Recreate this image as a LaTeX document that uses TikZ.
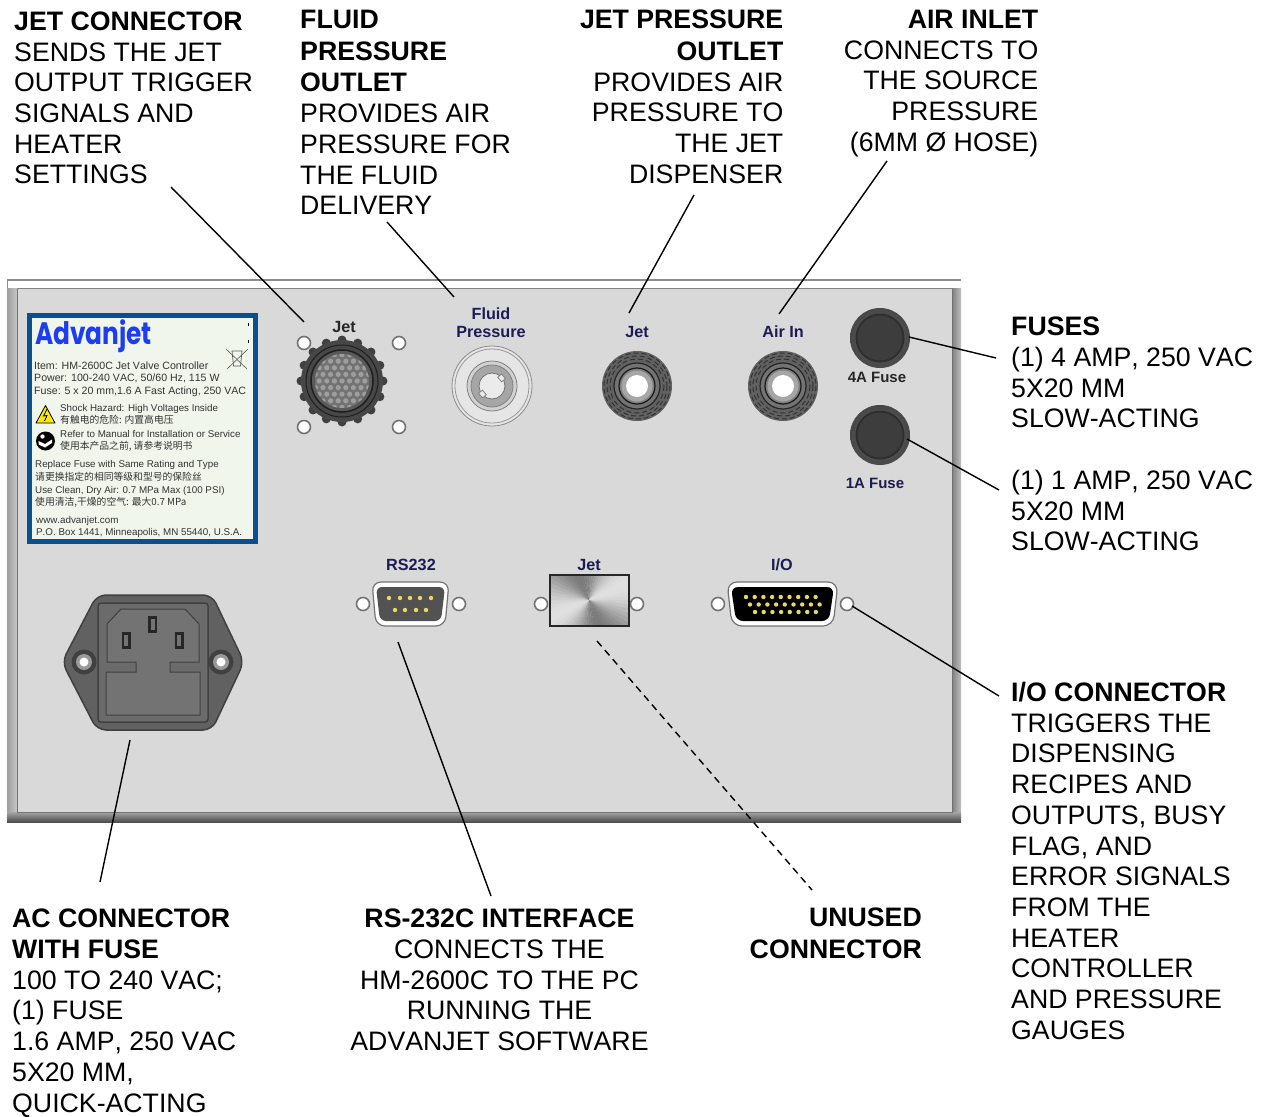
\documentclass[tikz,border=0pt]{standalone}
\usepackage{fontspec}
\setmainfont[Kerning=Off]{Liberation Sans}
\newfontfamily\cjkfont{Noto Sans CJK SC}
\newfontfamily\logofont{Poppins}
\usepackage{graphicx}
\usepackage{tikz}
\usetikzlibrary{positioning, shadings}

\definecolor{panelgray}{HTML}{D9D9D9}
\definecolor{platenavy}{HTML}{1C1C55}
\definecolor{labelblue}{HTML}{0B4F8F}
\definecolor{labelback}{HTML}{F1F6EC}
\definecolor{logoblue}{HTML}{1C3DF0}
\definecolor{pinyellow}{HTML}{E8D860}

\begin{document}
\begin{tikzpicture}[x=1pt,y=-1pt,
    calltext/.style={inner sep=0pt,font=\fontsize{26.7}{30.7}\selectfont},
    calltextleft/.style={calltext,anchor=north west,align=left},
    calltextright/.style={calltext,anchor=north east,align=right},
    calltextmid/.style={calltext,anchor=north,align=center},
    callline/.style={line width=1.4pt},
    platetext/.style={inner sep=0pt,align=center,text=platenavy,font=\fontsize{16.2}{18}\selectfont\bfseries},
    platetextblack/.style={platetext,text=black!85},
    fusetextstyle/.style={font=\fontsize{15}{18}\selectfont\bfseries},
    stickertext/.style={inner sep=0pt,anchor=west,text height=8pt,text depth=2pt,text=black!80,font=\fontsize{10.6}{12}\selectfont},
    stickersmall/.style={stickertext,font=\fontsize{9.8}{12}\selectfont},
    stickercjk/.style={stickertext,font=\fontsize{9.8}{12}\selectfont\cjkfont},
    hole/.style={circle,draw=black!55,fill=white,line width=1.6pt,minimum size=13pt,inner sep=0pt},
    pinyel/.style={circle,fill=pinyellow,inner sep=0pt,minimum size=4.4pt},
    ]

    \useasboundingbox (0,0) rectangle (1263,1116);

    % cabinet panel
    \fill[panelgray] (7,288) rectangle (961,822);
    \fill[white] (7,280) rectangle (961,288);
    \draw[-,black!45,line width=2.5pt] (7,280) -- (961,280);
    \draw[-,black!45,line width=1.2pt] (7.5,280) -- (7.5,288);
    \draw[-,black!50,line width=1.5pt] (7,288.5) -- (961,288.5);
    \shade[left color=black!38,right color=black!22] (7,288) rectangle (17,812);
    \shade[left color=black!50,right color=black!25] (952,288) rectangle (961,812);
    \shade[top color=black!35,bottom color=black!70] (7,812) rectangle (961,822);
    \draw[-,black!55,line width=0.8pt] (17,289) -- (17,812) -- (952,812) -- (952,289);

    % sticker
    \draw[draw=labelblue,fill=labelback,line width=5pt] (29.5,315.5) rectangle (255.5,541.5);
    \node (logo) [inner sep=0pt,anchor=west,text=logoblue,font=\fontsize{31}{36}\selectfont\logofont\bfseries] at (35,336) {\scalebox{0.8}[1]{Advanjet}};
    \node (item) [stickertext] at (34,366) {Item: HM-2600C Jet Valve Controller};
    \node (power) [stickertext] at (34,378) {Power: 100-240 VAC, 50/60 Hz, 115 W};
    \node (fuse) [stickertext] at (34,391) {Fuse: 5 x 20 mm,1.6 A Fast Acting, 250 VAC};
    \node (shock) [stickersmall] at (60,408) {Shock Hazard: High Voltages Inside};
    \node (shockcn) [stickercjk] at (60,420) {有触电的危险: 内置高电压};
    \node (refer) [stickersmall] at (60,434) {Refer to Manual for Installation or Service};
    \node (refercn) [stickercjk] at (60,446) {使用本产品之前, 请参考说明书};
    \node (replace) [stickersmall] at (35,464) {Replace Fuse with Same Rating and Type};
    \node (replacecn) [stickercjk] at (35,477) {请更换指定的相同等级和型号的保险丝};
    \node (clean) [stickersmall] at (35,490) {Use Clean, Dry Air: 0.7 MPa Max (100 PSI)};
    \node (cleancn) [stickercjk] at (35,502) {使用清洁,干燥的空气: 最大0.7 MPa};
    \node (web) [stickersmall] at (36,520) {www.advanjet.com};
    \node (box) [stickersmall] at (36,532) {P.O. Box 1441, Minneapolis, MN 55440, U.S.A.};

    \draw[-,fill=yellow!90!orange,draw=black,line width=0.8pt,line join=round] (36,423) -- (45.5,405.5) -- (55,423) -- cycle;
    \draw[-,black,line width=0.8pt] (47,409) -- (43.5,416) -- (47,415.5) -- (44.5,421);
    \fill[black] (45.5,441) circle (9.5);
    \fill[white] (38.5,441) -- (45,444) -- (52,439.5) -- (52,443) -- (45,447.5) -- (38.5,444.5) -- cycle;
    \fill[white] (42.5,436.5) circle (2.2);
    \draw[-,black!65,line width=0.6pt] (226,349) -- (247,369);
    \draw[-,black!65,line width=0.6pt] (248,349) -- (227,369);
    \draw[-,black!65,line width=0.7pt] (232,351) -- (242,351) -- (240.5,366) -- (233.5,366) -- cycle;
    \draw[-,black,line width=0.8pt] (248,323) -- (248,326);
    \draw[-,black,line width=0.8pt] (248,340) -- (248,343);

    % round jet connector
    \foreach \i/\x/\y in {1/304/343,2/399/343,3/304/427,4/399/427}
        \node (jethole\i) [hole] at (\x,\y) {};
    \begin{scope}[shift={(342,381)}]
        \foreach \a in {0,22.5,...,337.5}
            \fill[black!75] (\a:41) circle (4.5);
        \fill[black!72] (0,0) circle (41);
        \draw[-,black!88,line width=1pt] (0,0) circle (36);
        \draw[-,black!88,line width=1.5pt,fill=black!65] (0,0) circle (31);
        \fill[black!55] (0,0) circle (27);
        \begin{scope}
            \clip (0,0) circle (27);
            \foreach \r in {-4,...,4}
                \foreach \c in {-4,...,4}
                    \fill[black!38] ({(\c+0.5*mod(\r+8,2))*7.6},{\r*6.6}) circle (2.6);
        \end{scope}
    \end{scope}
    \node (jetround) [platetextblack] at (344,327) {Jet};

    % fluid pressure outlet
    \begin{scope}[shift={(492,386)}]
        \draw[-,black!45,fill=black!10,line width=0.8pt] (0,0) circle (40);
        \draw[-,black!40,line width=0.8pt] (0,0) circle (37);
        \draw[-,black!50,fill=black!18,line width=0.8pt] (0,0) circle (25);
        \draw[-,black!50,fill=black!35,line width=0.8pt] (0,0) circle (21);
        \draw[-,black!55,fill=black!8,line width=0.8pt] (0,0) circle (13);
        \draw[-,black!50,fill=black!8,line width=0.8pt,rotate=40] (-15,-3) rectangle (-10,3);
        \draw[-,black!50,fill=black!8,line width=0.8pt,rotate=40] (10,-3) rectangle (15,3);
    \end{scope}
    \node (fluidname) [platetext] at (491,323) {Fluid\\Pressure};

    % air fittings
    \foreach \n/\x/\t in {jetfit/637/Jet,airfit/783/Air In} {
        \begin{scope}[shift={(\x,386)}]
            \fill[black!62] (0,0) circle (35);
            \foreach \r in {33,30,27}
                \draw[-,black!80,line width=1pt,dash pattern=on 5pt off 3pt] (0,0) circle (\r);
            \draw[-,black!85,fill=black!55,line width=1.2pt] (0,0) circle (23);
            \draw[-,black!90,fill=black!50,line width=1.2pt] (0,0) circle (18);
            \fill[black!35] (0,0) circle (15.5);
            \fill[white] (0,0) circle (11);
        \end{scope}
        \node (\n) [platetext] at (\x,332) {\t};
    }

    % fuse caps
    \foreach \n/\y in {fusefour/338,fuseone/435} {
        \begin{scope}[shift={(880,\y)}]
            \shade[inner color=black!60,outer color=black!72] (0,0) circle (30);
            \fill[black!82] (0,0) circle (24.5);
            \fill[black!76] (0,0) circle (22.5);
        \end{scope}
    }
    \node (fusefourname) [platetextblack,fusetextstyle] at (877,377) {4A Fuse};
    \node (fuseonename) [platetext,fusetextstyle] at (875,483) {1A Fuse};

    % rs232 connector
    \node (rsleft) [hole] at (363,604) {};
    \node (rsright) [hole] at (459,604) {};
    \draw[-,black!55,fill=white,line width=1.2pt,rounded corners=9pt] (372,582) -- (449,582) -- (445,626) -- (376,626) -- cycle;
    \fill[black!68,rounded corners=6pt] (376,587) -- (445,587) -- (441,621) -- (380,621) -- cycle;
    \foreach \x in {389,400,410,420,431}
        \node [pinyel] at (\x,598) {};
    \foreach \x in {395,405,416,426}
        \node [pinyel] at (\x,610) {};
    \node (rsname) [platetext] at (411,565) {RS232};

    % unused jet plate
    \node (plateleft) [hole] at (541,604) {};
    \node (plateright) [hole] at (637,604) {};
    \begin{scope}
        \clip (550,575) rectangle (629,626);
        \foreach \a in {0,6,...,354} {
            \pgfmathsetmacro\lvl{32+20*cos(2*(\a+115))}
            \fill[black!\lvl] (589,600) -- +(\a:70) -- +(\a+6.5:70) -- cycle;
        }
    \end{scope}
    \draw[-,black!85,line width=1.3pt] (550,575) rectangle (629,626);
    \node (platename) [platetext] at (589,565) {Jet};

    % io connector
    \node (ioleft) [hole] at (718,604) {};
    \node (ioright) [hole] at (847,604) {};
    \draw[-,black!55,fill=white,line width=1.2pt,rounded corners=10pt] (727,582) -- (838,582) -- (833,626) -- (732,626) -- cycle;
    \fill[black,rounded corners=7pt] (731,587) -- (834,587) -- (829,621) -- (736,621) -- cycle;
    \foreach \i in {0,...,8} {
        \node [pinyel] at ({746+8.7*\i},597) {};
        \node [pinyel] at ({750+8.7*\i},604.5) {};
    }
    \foreach \i in {0,...,7}
        \node [pinyel] at ({755+8.7*\i},612) {};
    \node (ioname) [platetext] at (782,565) {I/O};

    % ac inlet
    \draw[-,draw=black!75,fill=black!62,line width=1.5pt,rounded corners=9pt] (62,662) -- (97,595) -- (212,595) -- (244,662) -- (212,730) -- (97,730) -- cycle;
    \draw[-,draw=black!75,fill=black!58,line width=1.5pt,rounded corners=3pt] (98,603) rectangle (208,722);
    \draw[-,draw=black!75,fill=black!55,line width=1pt] (107,662) -- (107,624) -- (121,609) -- (185,609) -- (199,624) -- (199,662) -- (170,662) -- (170,672) -- (200,672) -- (200,715) -- (106,715) -- (106,672) -- (136,672) -- (136,662) -- cycle;
    \foreach \x/\y in {126/640,152.5/624,179/640} {
        \fill[black!85] (\x-4.5,\y-8.5) rectangle (\x+4.5,\y+8.5);
        \fill[black!55] (\x-2,\y-5.5) rectangle (\x+2,\y+5.5);
    }
    \foreach \x in {84,221} {
        \fill[black!75] (\x,662) circle (12.5);
        \fill[black!40] (\x,662) circle (8);
        \fill[white] (\x,662) circle (4.5);
    }

    % text blocks
    \node (jettext) [calltextleft] at (14,11.5) {\textbf{JET CONNECTOR}\\SENDS THE JET\\OUTPUT TRIGGER\\SIGNALS AND\\HEATER\\SETTINGS};
    \node (fluidtext) [calltextleft] at (300,10) {\textbf{FLUID}\\[1pt]\textbf{PRESSURE}\\[1pt]\textbf{OUTLET}\\PROVIDES AIR\\PRESSURE FOR\\THE FLUID\\DELIVERY};
    \node (jetpresstext) [calltextright] at (783.5,10) {\textbf{JET PRESSURE}\\[1pt]\textbf{OUTLET}\\PROVIDES AIR\\PRESSURE TO\\THE JET\\DISPENSER};
    \node (airtext) [calltextright] at (1038.5,10) {\textbf{AIR INLET}\\CONNECTS TO\\THE SOURCE\\PRESSURE\\(6MM Ø HOSE)};
    \node (fusetext) [calltextleft] at (1011,317) {\textbf{FUSES}\\(1) 4 AMP, 250 VAC\\5X20 MM\\SLOW-ACTING};
    \node (fuseonetext) [calltextleft] at (1011,470) {(1) 1 AMP, 250 VAC\\5X20 MM\\SLOW-ACTING};
    \node (iotext) [calltextleft] at (1011,682) {\textbf{I/O CONNECTOR}\\TRIGGERS THE\\DISPENSING\\RECIPES AND\\OUTPUTS, BUSY\\FLAG, AND\\ERROR SIGNALS\\FROM THE\\HEATER\\CONTROLLER\\AND PRESSURE\\GAUGES};
    \node (actext) [calltextleft] at (12,909) {\textbf{AC CONNECTOR}\\\textbf{WITH FUSE}\\100 TO 240 VAC;\\(1) FUSE\\1.6 AMP, 250 VAC\\5X20 MM,\\QUICK-ACTING};
    \node (rstext) [calltextmid] at (499.5,909) {\textbf{RS-232C INTERFACE}\\CONNECTS THE\\HM-2600C TO THE PC\\RUNNING THE\\ADVANJET SOFTWARE};
    \node (unusedtext) [calltextright] at (922,908) {\textbf{UNUSED}\\[1pt]\textbf{CONNECTOR}};

    % leader lines
    \coordinate (jettextend) at (171,187);
    \coordinate (jettip) at (304,322);
    \coordinate (fluidtextend) at (387,222);
    \coordinate (fluidtip) at (454,297);
    \coordinate (jetpressend) at (694,195);
    \coordinate (jetpresstip) at (629,313);
    \coordinate (airend) at (887,161);
    \coordinate (airtip) at (779,314);
    \coordinate (fusefourtip) at (909,337);
    \coordinate (fusefourend) at (996,358);
    \coordinate (fuseonetip) at (907,439);
    \coordinate (fuseoneend) at (999,490);
    \coordinate (iotip) at (852,606);
    \coordinate (ioend) at (999,696);
    \coordinate (actip) at (130,740);
    \coordinate (acend) at (100,882);
    \coordinate (rstip) at (398,642);
    \coordinate (rsend) at (491,896);
    \coordinate (platetip) at (597,641);
    \coordinate (plateend) at (812,890);

    \draw[-,callline] (jettextend) -- (jettip);
    \draw[-,callline] (fluidtextend) -- (fluidtip);
    \draw[-,callline] (jetpressend) -- (jetpresstip);
    \draw[-,callline] (airend) -- (airtip);
    \draw[-,callline] (fusefourtip) -- (fusefourend);
    \draw[-,callline] (fuseonetip) -- (fuseoneend);
    \draw[-,callline] (iotip) -- (ioend);
    \draw[-,callline] (actip) -- (acend);
    \draw[-,callline] (rstip) -- (rsend);
    \draw[-,callline,dash pattern=on 7pt off 5pt] (platetip) -- (plateend);

\end{tikzpicture}
\end{document}
